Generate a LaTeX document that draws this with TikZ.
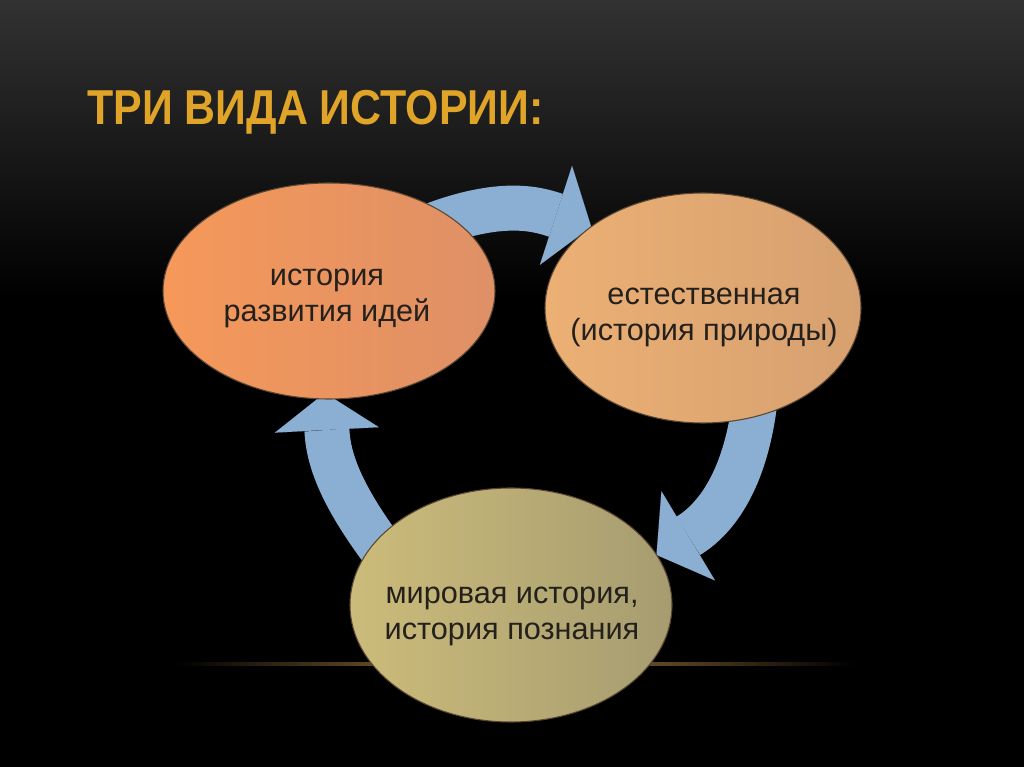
\documentclass[tikz,border=0pt]{standalone}
\usepackage{fontspec}
\setmainfont{Liberation Sans}
\usetikzlibrary{shapes.geometric,arrows.meta}
\definecolor{bgtop}{RGB}{50,50,50}
\definecolor{titlegold}{RGB}{224,164,40}
\definecolor{arrowblue}{RGB}{138,175,210}
\definecolor{eAl}{RGB}{246,152,90}
\definecolor{eAr}{RGB}{222,144,102}
\definecolor{eBl}{RGB}{236,176,116}
\definecolor{eBr}{RGB}{214,160,112}
\definecolor{eCl}{RGB}{204,188,122}
\definecolor{eCr}{RGB}{166,156,112}
\definecolor{rim}{RGB}{90,70,50}
\definecolor{txt}{RGB}{36,32,28}
\definecolor{glow}{RGB}{160,122,62}
\pgfdeclarelayer{bg}
\pgfdeclarelayer{under}
\pgfsetlayers{bg,under,main}
\begin{document}
\begin{tikzpicture}[x=0.75pt,y=0.75pt,
  oval/.style={ellipse, inner sep=0pt, outer sep=0pt, draw=rim, line width=0.8pt},
  lbl/.style={font=\fontsize{23}{27}\selectfont, text=txt, align=center, inner sep=0pt},
  cyc/.style={draw=arrowblue, line width=33.75pt,
    -{Triangle[width=78pt,length=27.75pt,line width=0.01pt]}},
]
\useasboundingbox (0,0) rectangle (1024,767);
\begin{pgfonlayer}{bg}
  \fill[black] (0,0) rectangle (1024,767);
  \shade[top color=bgtop, bottom color=black] (0,767) rectangle (1024,470);
\end{pgfonlayer}

\node[anchor=base west, inner sep=0pt, text=titlegold,
  font=\fontsize{36.75}{40}\selectfont\bfseries] (title) at (87,642)
  {\scalebox{0.875}[1]{ТРИ ВИДА ИСТОРИИ:}};

\node[oval, minimum width=249pt, minimum height=162pt, left color=eAl, right color=eAr] (e1) at (329,476) {};
\node[oval, minimum width=237pt, minimum height=172.5pt, left color=eBl, right color=eBr] (e2) at (703,459) {};
\node[oval, minimum width=241.5pt, minimum height=175.5pt, left color=eCl, right color=eCr] (e3) at (511,162) {};

\node[lbl] (t1) at (327,469) {история\\развития идей};
\node[lbl] (t2) at (704,449.5) {естественная\\(история природы)};
\node[lbl] (t3) at (512,151) {мировая история,\\история познания};

\begin{pgfonlayer}{under}
  \shade[left color=black, right color=black, middle color=glow] (175,101.5) rectangle (855,104.5);
  \draw[cyc, shorten <=-22pt] (e1.31) to[out=22, in=162] (e2.144);
  \draw[cyc, shorten <=-22pt] (e2.295) to[out=265, in=31] (e3.19);
  \draw[cyc, shorten <=-22pt, shorten >=-4.5pt] (e3.155) to[out=128, in=-87] (e1.268);
\end{pgfonlayer}
\end{tikzpicture}
\end{document}
